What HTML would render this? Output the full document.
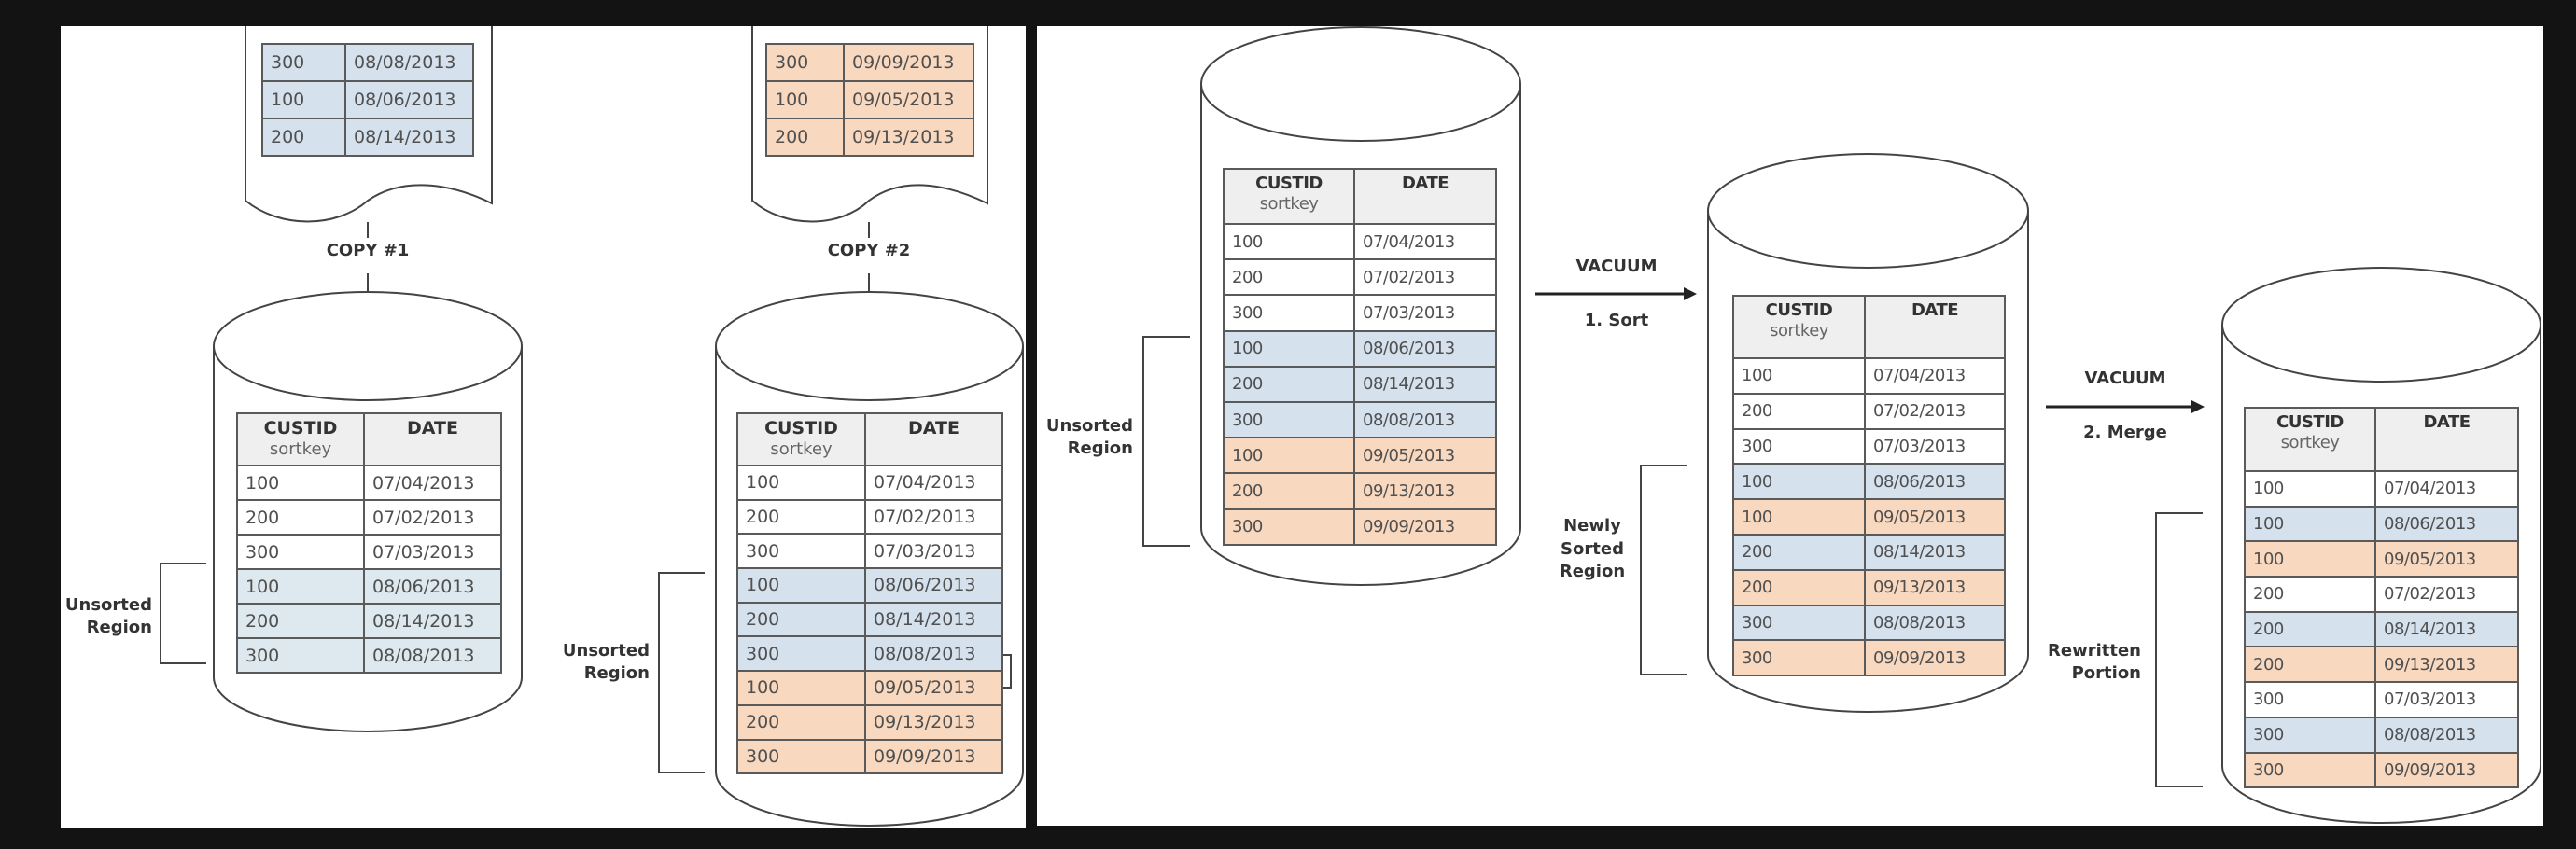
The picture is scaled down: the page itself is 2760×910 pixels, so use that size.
<!DOCTYPE html>
<html><head><meta charset="utf-8"><style>
html,body{margin:0;padding:0}
body{width:2760px;height:910px;background:#131313;position:relative;overflow:hidden;font-family:"DejaVu Sans","Liberation Sans",sans-serif}
.p{position:absolute;background:#fff}
svg{position:absolute;left:0;top:0}
table{position:absolute;border-collapse:collapse;table-layout:fixed;color:#505050;font-size:19px}
td{border:2px solid #5a5a5a;padding:0 0 0 8px;white-space:nowrap;overflow:hidden}
td.h{background:#efefef;text-align:center;vertical-align:top;padding:4px 0 0 0;font-weight:bold;color:#333;line-height:22px}
td.h span{font-weight:normal;color:#666;font-size:18px}
tr.b td{background:#d6e1ee}
tr.l td{background:#dde9ee}
tr.o td{background:#f8d8bf}
.lb{position:absolute;font-weight:bold;font-size:18px;color:#333;line-height:24px;white-space:nowrap}
.r{text-align:right}.c{text-align:center}
.n td{font-size:18px;letter-spacing:-0.5px}
</style></head><body>
<div class="p" style="left:65px;top:28px;width:1034px;height:860px"></div>
<div class="p" style="left:1111px;top:28px;width:1614px;height:857px"></div>
<svg width="2760" height="910" fill="none" stroke="#444" stroke-width="2">
<!-- docs -->
<path d="M263,28 V215 C300,245 360,245 394,215 C430,190 480,195 527,218 V28" fill="#fff"/>
<path d="M806,28 V215 C840,245 900,245 931,215 C965,190 1010,195 1058,218 V28" fill="#fff"/>
<line x1="394" y1="238" x2="394" y2="255"/><line x1="394" y1="293" x2="394" y2="313"/>
<line x1="931" y1="238" x2="931" y2="255"/><line x1="931" y1="293" x2="931" y2="313"/>
<!-- cylinders -->
<path d="M229,371 V726 A165,58 0 0 0 559,726 V371" fill="#fff"/><ellipse cx="394" cy="371" rx="165" ry="58" fill="#fff"/>
<path d="M767,371 V827 A164.5,58 0 0 0 1096,827 V371" fill="#fff"/><ellipse cx="931.5" cy="371" rx="164.5" ry="58" fill="#fff"/>
<path d="M1287,90 V566 A171,61 0 0 0 1629,566 V90" fill="#fff"/><ellipse cx="1458" cy="90" rx="171" ry="61" fill="#fff"/>
<path d="M1830,226 V702 A171.5,61 0 0 0 2173,702 V226" fill="#fff"/><ellipse cx="2001.5" cy="226" rx="171.5" ry="61" fill="#fff"/>
<path d="M2381,348 V821 A170.5,61 0 0 0 2722,821 V348" fill="#fff"/><ellipse cx="2551.5" cy="348" rx="170.5" ry="61" fill="#fff"/>
<!-- brackets -->
<path d="M221,604 H172 V711 H221"/>
<path d="M755,614 H706 V828 H755"/>
<path d="M1075,702 H1083 V737 H1075"/>
<path d="M1275,361 H1225 V585 H1275"/>
<path d="M1807,499 H1758 V723 H1807"/>
<path d="M2360,550 H2310 V843 H2360"/>
<!-- arrows -->
<line x1="1645" y1="315" x2="1806" y2="315" stroke="#222" stroke-width="3"/>
<path d="M1804,308 L1818,315 L1804,322Z" fill="#222" stroke="none"/>
<line x1="2192" y1="436" x2="2350" y2="436" stroke="#222" stroke-width="3"/>
<path d="M2348,429 L2362,436 L2348,443Z" fill="#222" stroke="none"/>
</svg>

<div class="lb c" style="left:344px;top:257px;width:100px">COPY #1</div>
<div class="lb c" style="left:881px;top:257px;width:100px">COPY #2</div>
<div class="lb r" style="left:40px;top:637px;width:123px">Unsorted<br>Region</div>
<div class="lb r" style="left:570px;top:686px;width:126px">Unsorted<br>Region</div>
<div class="lb r" style="left:1090px;top:445px;width:124px">Unsorted<br>Region</div>
<div class="lb c" style="left:1656px;top:552px;width:100px;line-height:24.5px">Newly<br>Sorted<br>Region</div>
<div class="lb r" style="left:2170px;top:686px;width:124px">Rewritten<br>Portion</div>
<div class="lb c" style="left:1672px;top:274px;width:120px">VACUUM</div>
<div class="lb c" style="left:1672px;top:332px;width:120px">1. Sort</div>
<div class="lb c" style="left:2217px;top:394px;width:120px">VACUUM</div>
<div class="lb c" style="left:2217px;top:452px;width:120px">2. Merge</div>

<table style="left:280px;top:46px;width:228px"><colgroup><col style="width:89px"><col></colgroup>
<tr class="b" style="height:40px"><td>300</td><td>08/08/2013</td></tr>
<tr class="b" style="height:40px"><td>100</td><td>08/06/2013</td></tr>
<tr class="b" style="height:40px"><td>200</td><td>08/14/2013</td></tr></table>

<table style="left:820px;top:46px;width:224px"><colgroup><col style="width:83px"><col></colgroup>
<tr class="o" style="height:40px"><td>300</td><td>09/09/2013</td></tr>
<tr class="o" style="height:40px"><td>100</td><td>09/05/2013</td></tr>
<tr class="o" style="height:40px"><td>200</td><td>09/13/2013</td></tr></table>

<table style="left:253px;top:442px;width:285px"><colgroup><col style="width:136px"><col></colgroup>
<tr style="height:56px"><td class="h">CUSTID<br><span>sortkey</span></td><td class="h">DATE</td></tr>
<tr style="height:37px"><td>100</td><td>07/04/2013</td></tr>
<tr style="height:37px"><td>200</td><td>07/02/2013</td></tr>
<tr style="height:37px"><td>300</td><td>07/03/2013</td></tr>
<tr class="l" style="height:37px"><td>100</td><td>08/06/2013</td></tr>
<tr class="l" style="height:37px"><td>200</td><td>08/14/2013</td></tr>
<tr class="l" style="height:37px"><td>300</td><td>08/08/2013</td></tr></table>

<table style="left:789px;top:442px;width:286px"><colgroup><col style="width:137px"><col></colgroup>
<tr style="height:56px"><td class="h">CUSTID<br><span>sortkey</span></td><td class="h">DATE</td></tr>
<tr style="height:36.7px"><td>100</td><td>07/04/2013</td></tr>
<tr style="height:36.7px"><td>200</td><td>07/02/2013</td></tr>
<tr style="height:36.7px"><td>300</td><td>07/03/2013</td></tr>
<tr class="b" style="height:36.7px"><td>100</td><td>08/06/2013</td></tr>
<tr class="b" style="height:36.7px"><td>200</td><td>08/14/2013</td></tr>
<tr class="b" style="height:36.7px"><td>300</td><td>08/08/2013</td></tr>
<tr class="o" style="height:36.7px"><td>100</td><td>09/05/2013</td></tr>
<tr class="o" style="height:36.7px"><td>200</td><td>09/13/2013</td></tr>
<tr class="o" style="height:36.7px"><td>300</td><td>09/09/2013</td></tr></table>

<table class="n" style="left:1310px;top:180px;width:294px"><colgroup><col style="width:140px"><col></colgroup>
<tr style="height:59px"><td class="h">CUSTID<br><span>sortkey</span></td><td class="h">DATE</td></tr>
<tr style="height:38.2px"><td>100</td><td>07/04/2013</td></tr>
<tr style="height:38.2px"><td>200</td><td>07/02/2013</td></tr>
<tr style="height:38.2px"><td>300</td><td>07/03/2013</td></tr>
<tr class="b" style="height:38.2px"><td>100</td><td>08/06/2013</td></tr>
<tr class="b" style="height:38.2px"><td>200</td><td>08/14/2013</td></tr>
<tr class="b" style="height:38.2px"><td>300</td><td>08/08/2013</td></tr>
<tr class="o" style="height:38.2px"><td>100</td><td>09/05/2013</td></tr>
<tr class="o" style="height:38.2px"><td>200</td><td>09/13/2013</td></tr>
<tr class="o" style="height:38.2px"><td>300</td><td>09/09/2013</td></tr></table>

<table class="n" style="left:1856px;top:316px;width:293px"><colgroup><col style="width:141px"><col></colgroup>
<tr style="height:67px"><td class="h">CUSTID<br><span>sortkey</span></td><td class="h">DATE</td></tr>
<tr style="height:37.8px"><td>100</td><td>07/04/2013</td></tr>
<tr style="height:37.8px"><td>200</td><td>07/02/2013</td></tr>
<tr style="height:37.8px"><td>300</td><td>07/03/2013</td></tr>
<tr class="b" style="height:37.8px"><td>100</td><td>08/06/2013</td></tr>
<tr class="o" style="height:37.8px"><td>100</td><td>09/05/2013</td></tr>
<tr class="b" style="height:37.8px"><td>200</td><td>08/14/2013</td></tr>
<tr class="o" style="height:37.8px"><td>200</td><td>09/13/2013</td></tr>
<tr class="b" style="height:37.8px"><td>300</td><td>08/08/2013</td></tr>
<tr class="o" style="height:37.8px"><td>300</td><td>09/09/2013</td></tr></table>

<table class="n" style="left:2404px;top:436px;width:295px"><colgroup><col style="width:140px"><col></colgroup>
<tr style="height:68px"><td class="h">CUSTID<br><span>sortkey</span></td><td class="h">DATE</td></tr>
<tr style="height:37.7px"><td>100</td><td>07/04/2013</td></tr>
<tr class="b" style="height:37.7px"><td>100</td><td>08/06/2013</td></tr>
<tr class="o" style="height:37.7px"><td>100</td><td>09/05/2013</td></tr>
<tr style="height:37.7px"><td>200</td><td>07/02/2013</td></tr>
<tr class="b" style="height:37.7px"><td>200</td><td>08/14/2013</td></tr>
<tr class="o" style="height:37.7px"><td>200</td><td>09/13/2013</td></tr>
<tr style="height:37.7px"><td>300</td><td>07/03/2013</td></tr>
<tr class="b" style="height:37.7px"><td>300</td><td>08/08/2013</td></tr>
<tr class="o" style="height:37.7px"><td>300</td><td>09/09/2013</td></tr></table>
</body></html>
